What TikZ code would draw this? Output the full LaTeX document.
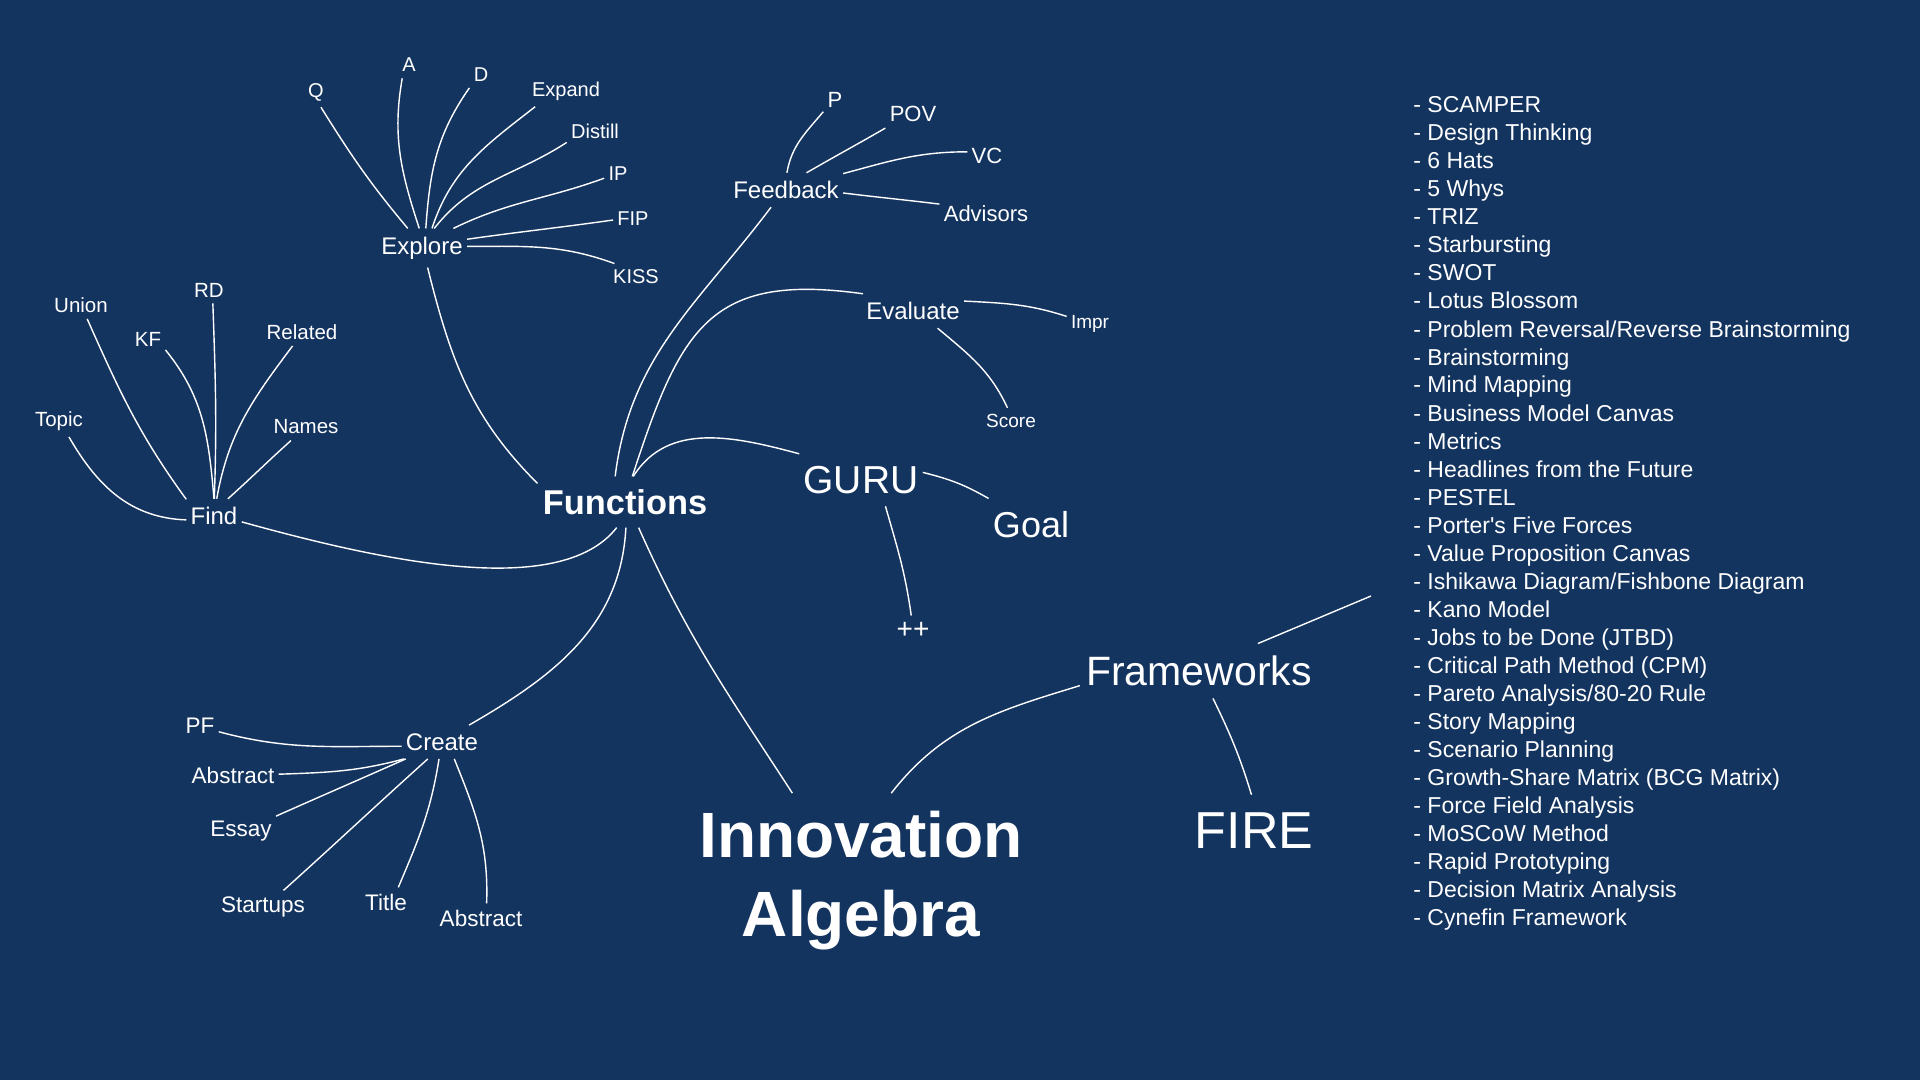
\documentclass[tikz,border=0pt]{standalone}
\usepackage{fontspec}
\setmainfont{Liberation Sans}
\definecolor{navy}{RGB}{20,52,96}
\tikzset{
  link/.style   = {white, line width=0.7pt},
  twig/.style   = {text=white, inner xsep=2pt, inner ysep=3pt},
  branch/.style = {text=white, inner xsep=2pt, inner ysep=4pt,
                   font=\fontsize{12}{14}\selectfont},
  tool/.style   = {text=white, inner sep=0pt, anchor=base west,
                   font=\fontsize{11.5}{14}\selectfont},
  pts/.style    = {font=\fontsize{#1}{#1}\selectfont}
}

\begin{document}
\begin{tikzpicture}[x=0.5pt, y=0.5pt]
\fill[navy] (0,0) rectangle (1920,-1080);
\useasboundingbox (0,0) rectangle (1920,-1080);

%% --- centre ---
\node[text=white, inner xsep=2.5pt, inner ysep=6.3pt,
      font=\fontsize{17.2}{20}\selectfont\bfseries] (functions) at (625,-502) {Functions};
\node[text=white, align=center, inner xsep=3pt, inner ysep=9pt,
      font=\fontsize{32}{39.5}\selectfont\bfseries] (inno) at (861,-881) {Innovation\\Algebra};

%% --- Explore ---
\node[branch] (explore) at (422,-248) {Explore};
\node[twig, pts=10] (q)       at (316,-92)  {Q};
\node[twig, pts=10] (a)       at (409,-65)  {A};
\node[twig, pts=10] (d)       at (481,-75)  {D};
\node[twig, pts=10] (expand)  at (566,-91)  {Expand};
\node[twig, pts=10] (distill) at (595,-131) {Distill};
\node[twig, pts=10] (ip)      at (618,-174) {IP};
\node[twig, pts=10] (fip)     at (633,-219) {FIP};
\node[twig, pts=10] (kiss)    at (636,-277) {KISS};

%% --- Find ---
\node[branch] (find) at (214,-516) {Find};
\node[twig, pts=10.25] (topic)   at (59,-421)  {Topic};
\node[twig, pts=10.25] (union)   at (81,-305)  {Union};
\node[twig, pts=10.25] (kf)      at (148,-339) {KF};
\node[twig, pts=10.25] (rd)      at (209,-290) {RD};
\node[twig, pts=10.25] (related) at (302,-332) {Related};
\node[twig, pts=10.25] (names)   at (306,-427) {Names};

%% --- Feedback ---
\node[branch] (feedback) at (786,-190) {Feedback};
\node[twig, pts=11] (p)        at (835,-100) {P};
\node[twig, pts=11] (pov)      at (913,-114) {POV};
\node[twig, pts=11] (vc)       at (987,-156) {VC};
\node[twig, pts=11] (advisors) at (986,-214) {Advisors};

%% --- Evaluate ---
\node[branch] (evaluate) at (913,-311) {Evaluate};
\node[twig, pts=9.5] (impr)  at (1090,-324) {Impr};
\node[twig, pts=9.5] (score) at (1011,-421) {Score};

%% --- GURU ---
\node[text=white, inner xsep=2pt, inner ysep=6pt, pts=19.5] (guru) at (861,-480) {GURU};
\node[text=white, inner xsep=2pt, inner ysep=7pt, pts=18]   (goal) at (1031,-525) {Goal};
\node[twig, pts=14] (pp) at (913,-630) {++};

%% --- Create ---
\node[branch] (create) at (442,-742) {Create};
\node[twig, pts=11.25] (pf)       at (200,-726) {PF};
\node[twig, pts=11.25] (abs1)     at (233,-775) {Abstract};
\node[twig, pts=11.25] (essay)    at (241,-831) {Essay};
\node[twig, pts=11.25] (startups) at (263,-907) {Startups};
\node[twig, pts=11.25] (title)    at (386,-902) {Title};
\node[twig, pts=11.25] (abs2)     at (481,-918) {Abstract};

%% --- Frameworks ---
\node[text=white, inner xsep=3pt, inner ysep=6pt, pts=20.5] (frameworks) at (1199,-671) {Frameworks};
\node[text=white, inner xsep=3pt, inner ysep=9pt, pts=26]   (fire) at (1254,-831) {FIRE};
\coordinate (fwtip) at (1371,-596);

\foreach \tname [count=\i from 0] in {SCAMPER, Design Thinking, 6 Hats, 5 Whys,
    TRIZ, Starbursting, SWOT, Lotus Blossom,
    Problem Reversal/Reverse Brainstorming, Brainstorming, Mind Mapping,
    Business Model Canvas, Metrics, Headlines from the Future, PESTEL,
    Porter\textquotesingle s Five Forces, Value Proposition Canvas,
    Ishikawa Diagram/Fishbone Diagram, Kano Model, Jobs to be Done (JTBD),
    Critical Path Method (CPM), Pareto Analysis/80-20 Rule, Story Mapping,
    Scenario Planning, Growth-Share Matrix (BCG Matrix), Force Field Analysis,
    MoSCoW Method, Rapid Prototyping, Decision Matrix Analysis,
    Cynefin Framework}
  \node[tool] (tool\i) at (1413,-113-28*\i) {- \tname};

%% --- Explore links ---
\draw[link] (explore.126) to[out=130,in=-58]  (q.-72);
\draw[link] (explore.98)  to[out=108,in=-100] (a.-117);
\draw[link] (explore.79)  to[out=86,in=-125]  (d.-132);
\draw[link] (explore.63)  to[out=72,in=-142]  (expand.-153);
\draw[link] (explore.58)  to[out=52,in=-147]  (distill.-158);
\draw[link] (explore.32)  to[out=26,in=-160]  (ip.-163);
\draw[link] (explore.11)  to[out=8,in=-172]   (fip.-177);
\draw[link] (explore.2)   to[out=0,in=160]    (kiss.148);
\draw[link] (explore.-74) to[out=-76,in=135]  (functions.168);

%% --- Find links ---
\draw[link] (find.188) to[out=178,in=-60]  (topic.-58);
\draw[link] (find.149) to[out=126,in=-66]  (union.-66);
\draw[link] (find.90)  to[out=95,in=-51]   (kf.-32);
\draw[link] (find.89)  to[out=88,in=-88]   (rd.-74);
\draw[link] (find.81)  to[out=80,in=-127]  (related.-124);
\draw[link] (find.51)  to[out=42,in=-138]  (names.-138);
\draw[link] (find.-12) .. controls +(137,-38) and +(-57,-73) .. (functions.-108);

%% --- Feedback links ---
\draw[link] (functions.111) to[out=83,in=-127] (feedback.-131);
\draw[link] (feedback.87)  to[out=80,in=-130] (p.-135);
\draw[link] (feedback.40)  to[out=30,in=-150] (pov.-153);
\draw[link] (feedback.16)  to[out=15,in=180]  (vc.168);
\draw[link] (feedback.-3)  to[out=-7,in=173]  (advisors.168);

%% --- Evaluate links ---
\draw[link] (functions.74) to[out=72,in=172,looseness=1.35] (evaluate.161);
\draw[link] (evaluate.11)  to[out=-3,in=162]  (impr.162);
\draw[link] (evaluate.-35) to[out=-40,in=115] (score.105);

%% --- GURU links ---
\draw[link] (functions.72) to[out=58,in=165] (guru.157);
\draw[link] (guru.7)   to[out=-14,in=150] (goal.148);
\draw[link] (guru.-47) to[out=-74,in=98]  (pp.97);

%% --- Create links ---
\draw[link] (functions.-88) to[out=-93,in=30] (create.32);
\draw[link] (create.-174) to[out=180,in=-15] (pf.-17);
\draw[link] (create.-156) to[out=195,in=2]   (abs1.1);
\draw[link] (create.-155) to[out=204,in=24]  (essay.23);
\draw[link] (create.-130) to[out=222,in=42]  (startups.39);
\draw[link] (create.-100) to[out=-99,in=67]  (title.50);
\draw[link] (create.-54)  to[out=-68,in=88]  (abs2.69);

%% --- Innovation Algebra and Frameworks ---
\draw[link] (functions.-62) to[out=-66,in=123] (inno.128);
\draw[link] (inno.71) to[out=52,in=-163] (frameworks.-173);
\draw[link] (frameworks.-63) to[out=-64,in=107] (fire.94);
\draw[link] (frameworks.25) -- (fwtip);

\end{tikzpicture}
\end{document}
